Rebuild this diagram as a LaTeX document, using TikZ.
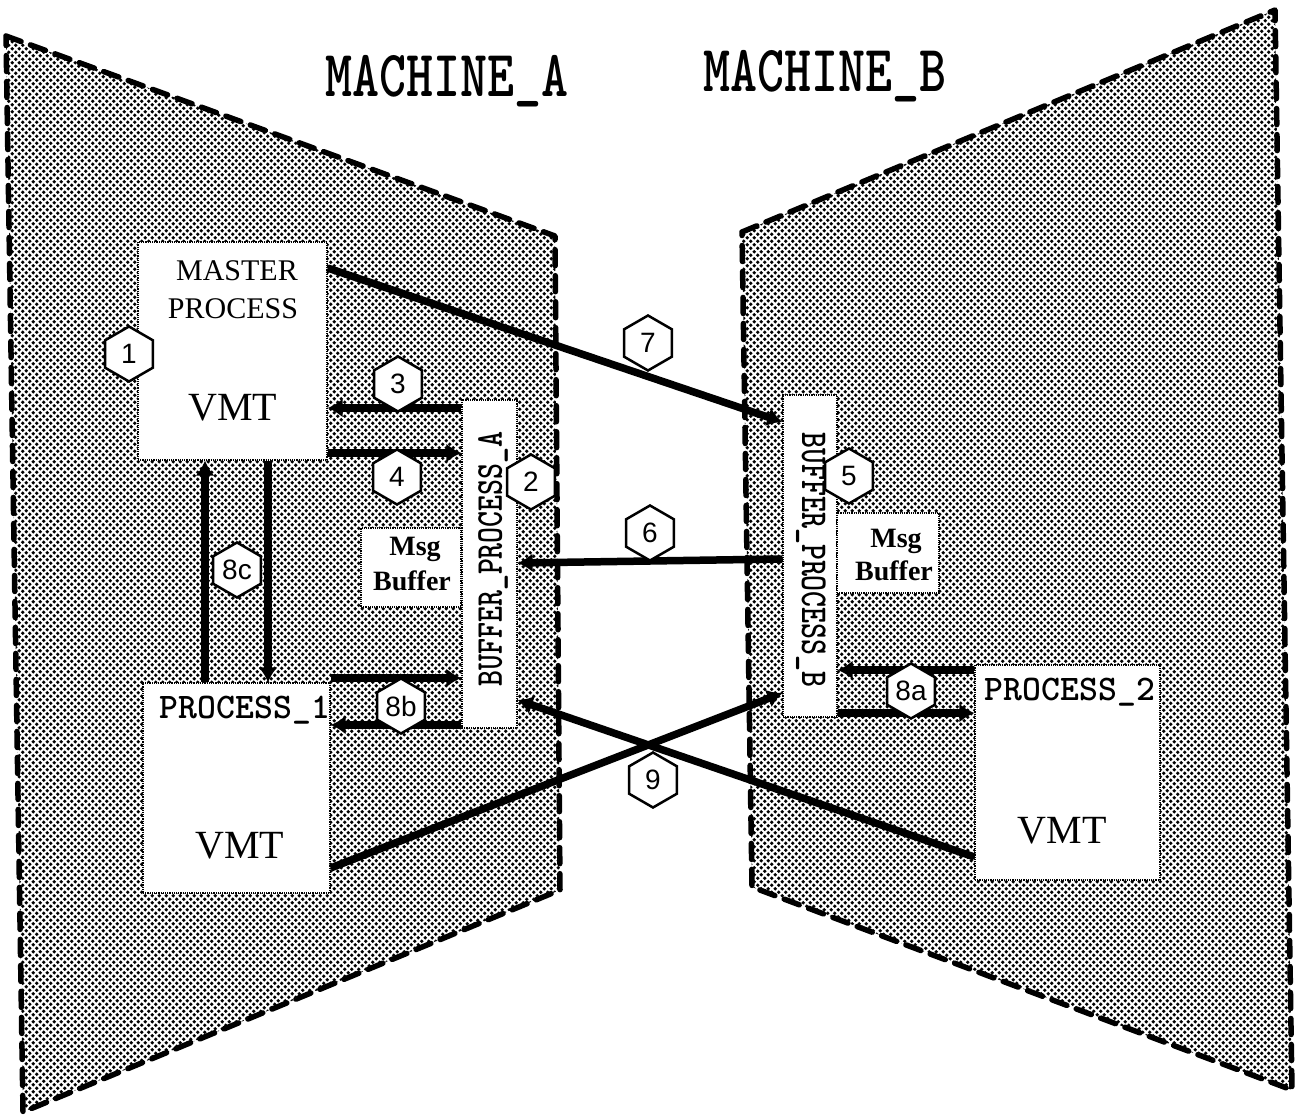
\documentclass[tikz,border=0pt]{standalone}
\usepackage{fontspec}
\setmainfont{Liberation Serif}
\setsansfont{Liberation Sans}
\usetikzlibrary{shapes.geometric,arrows.meta,patterns.meta}
\pgfdeclarepattern{
  name=stipple,
  type=uncolored,
  bottom left={\pgfpoint{-0.1pt}{-0.1pt}},
  top right={\pgfpoint{7.1pt}{7.1pt}},
  tile size={\pgfpoint{7pt}{7pt}},
  code={
    \pgfpathcircle{\pgfpoint{1.75pt}{1.75pt}}{1.95pt}
    \pgfpathcircle{\pgfpoint{5.25pt}{5.25pt}}{1.95pt}
    \pgfusepath{fill}
  }
}
\begin{document}
\begin{tikzpicture}[x=1pt,y=-1pt,
  machine/.style={pattern=stipple, pattern color=black, draw=black, line width=5.5pt,
    dash pattern=on 16pt off 10pt, line cap=round, line join=round},
  box/.style={rectangle, fill=white, draw=black, densely dotted, line width=1.2pt, inner sep=0pt},
  conn/.style={line width=7.5pt, -{Latex[length=15pt,width=19pt]}},
  hexlab/.style={regular polygon, regular polygon sides=6, shape border rotate=30, draw,
    line width=2.5pt, fill=white, minimum size=55pt, inner sep=0pt,
    font=\sffamily\fontsize{28}{28}\selectfont},
  title/.style={anchor=base, inner sep=0pt, font=\ttfamily\bfseries\fontsize{66}{66}\selectfont},
  ptitle/.style={anchor=base, inner sep=0pt, font=\ttfamily\bfseries\fontsize{36}{36}\selectfont},
  serif/.style={anchor=base, inner sep=0pt, font=\fontsize{30}{30}\selectfont},
  vmt/.style={anchor=base, inner sep=0pt, font=\fontsize{40}{40}\selectfont},
  msg/.style={anchor=base, inner sep=0pt, font=\bfseries\fontsize{28}{28}\selectfont},
  vert/.style={inner sep=0pt, font=\ttfamily\bfseries\fontsize{38}{38}\selectfont}
]
\useasboundingbox (0,0) rectangle (1304,1118);

% machines
\path[machine] (6,36) -- (555,236) -- (560,890) -- (23,1112) -- cycle;
\path[machine] (742,232) -- (1275,10) -- (1292,1090) -- (752,887) -- cycle;

% boxes
\node[box, minimum width=189pt, minimum height=218pt] (master) at (232.5,351) {};
\node[box, minimum width=187pt, minimum height=210pt] (proc1) at (236.5,788) {};
\node[box, minimum width=100pt, minimum height=79pt] (msgA) at (411,567.5) {};
\node[box, minimum width=55pt, minimum height=328pt] (bufA) at (489.5,564) {};
\node[box, minimum width=54pt, minimum height=322pt] (bufB) at (810,556) {};
\node[box, minimum width=102pt, minimum height=80pt] (msgB) at (888,553) {};
\node[box, minimum width=185pt, minimum height=215pt] (proc2) at (1067.5,772.5) {};

% connectors
\draw[conn] (bufA.west |- 0,408) -- (master.east |- 0,408);
\draw[conn] (master.east |- 0,453) -- (bufA.west |- 0,453);
\draw[conn] (proc1.north -| 205,0) -- (master.south -| 205,0);
\draw[conn] (master.south -| 268,0) -- (proc1.north -| 268,0);
\draw[conn] (proc1.east |- 0,678) -- (bufA.west |- 0,678);
\draw[conn] (bufA.west |- 0,725) -- (proc1.east |- 0,725);
\draw[conn] (bufB.west |- 0,559) -- (bufA.east |- 0,563);
\draw[conn] (master.east |- 0,268) -- (bufB.west |- 0,422);
\draw[conn] (proc1.east |- 0,868) -- (bufB.west |- 0,693);
\draw[conn] (proc2.west |- 0,857) -- (bufA.east |- 0,700);
\draw[conn] (proc2.west |- 0,670) -- (bufB.east |- 0,670);
\draw[conn] (bufB.east |- 0,713) -- (proc2.west |- 0,713);

% hexagon labels
\node[hexlab] (h1) at (129,354) {1};
\node[hexlab] (h2) at (531,482) {2};
\node[hexlab] (h3) at (398,384) {3};
\node[hexlab] (h4) at (397,477) {4};
\node[hexlab] (h5) at (849,476) {5};
\node[hexlab] (h6) at (650,533) {6};
\node[hexlab] (h7) at (648,343) {7};
\node[hexlab] (h8c) at (237,570) {8c};
\node[hexlab] (h8b) at (401,706) {8b};
\node[hexlab] (h8a) at (911,691) {8a};
\node[hexlab] (h9) at (653,780) {9};

% texts
\node[title] (tA) at (447,97) {\scalebox{0.78}[1]{MACHINE\_A}};
\node[title] (tB) at (825,92) {\scalebox{0.78}[1]{MACHINE\_B}};
\node[serif] (tmaster) at (237,280) {MASTER};
\node[serif] (tprocess) at (233,318) {PROCESS};
\node[vmt] (tvmt0) at (233,420) {VMT};
\node[ptitle] (tp1) at (245,718) {PROCESS\_1};
\node[vmt] (tvmt1) at (240,858) {VMT};
\node[ptitle] (tp2) at (1070,700) {PROCESS\_2};
\node[vmt] (tvmt2) at (1062,843) {VMT};
\node[msg] (tmsgA) at (415,555) {Msg};
\node[msg] (tbufA) at (412,590) {Buffer};
\node[msg] (tmsgB) at (896,547) {Msg};
\node[msg] (tbufB) at (894,580) {Buffer};
\node[vert, rotate=90] (tbpA) at (493,559) {\scalebox{0.8}[1]{BUFFER\_PROCESS\_A}};
\node[vert, rotate=-90] (tbpB) at (811,560) {\scalebox{0.8}[1]{BUFFER\_PROCESS\_B}};
\end{tikzpicture}
\end{document}
